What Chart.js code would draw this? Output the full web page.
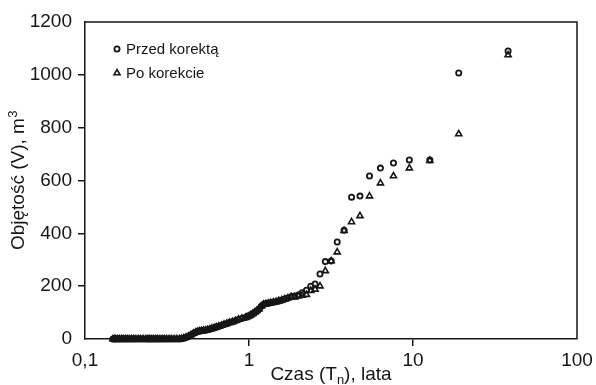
<!DOCTYPE html>
<html lang="pl">
<head>
<meta charset="utf-8">
<script src="https://cdn.jsdelivr.net/npm/chart.js@4/dist/chart.umd.min.js"></script>
<style>
html,body{margin:0;padding:0;background:#fff;}
#wrap{width:596px;height:385px;position:relative;}
</style>
</head>
<body>
<div id="wrap"><canvas id="c" width="596" height="385"></canvas></div>
<script>
// Okres powtarzalności (lata) dla największych zdarzeń
const czasGora = [38, 19, 12.67, 9.5, 7.6, 6.33, 5.43, 4.75, 4.22, 3.8, 3.45, 3.17, 2.92, 2.71, 2.53, 2.38, 2.24, 2.11, 2.0, 1.9];
// Objętość przed korektą i po korekcie (m3) dla tych zdarzeń
const przedGora = [1090, 1007, 678, 678, 666, 647, 617, 541, 537, 412, 367, 295, 293, 246, 208, 200, 185, 175, 167, 163];
const poGora = [1075, 776, 675, 647, 617, 590, 541, 466, 443, 410, 329, 295, 258, 200, 188, 183, 168, 165, 162, 158];

// Pozostałe zdarzenia – obie serie pokrywają się
const czasDol = [1.81, 1.727, 1.652, 1.583, 1.52, 1.462, 1.407, 1.357, 1.31, 1.267, 1.226, 1.188, 1.152, 1.118, 1.086, 1.056, 1.027, 1.0, 0.974, 0.95,
  0.905, 0.864, 0.826, 0.792, 0.76, 0.731, 0.704, 0.679, 0.655, 0.633, 0.613, 0.594, 0.576, 0.559, 0.543, 0.528, 0.514, 0.5, 0.487, 0.475,
  0.458, 0.442, 0.427, 0.413, 0.4, 0.388, 0.376, 0.362, 0.349, 0.336, 0.325, 0.314, 0.304, 0.295, 0.286, 0.277, 0.27, 0.262, 0.255, 0.248,
  0.242, 0.235, 0.226, 0.218, 0.211, 0.204, 0.198, 0.192, 0.186, 0.181, 0.176, 0.171, 0.167, 0.162, 0.158, 0.154, 0.151, 0.148];
const objetoscDol = [160, 155, 151, 147, 144, 141, 139, 137, 135, 133, 131, 124, 114, 107, 101, 96, 91, 87, 84, 81,
  78, 74, 69, 65, 62, 58, 55, 51, 48, 45, 42, 40, 37, 35, 33, 32, 31, 30, 28, 26,
  21, 15, 10, 6, 3, 1, 0, 0, 0, 0, 0, 0, 0, 0, 0, 0, 0, 0, 0, 0,
  0, 0, 0, 0, 0, 0, 0, 0, 0, 0, 0, 0, 0, 0, 0, 0, 0, 0];

// Podziałki osi
const tickiCzasu = [0.1, 1, 10, 100];
const etykietyCzasu = ['0,1', '1', '10', '100'];
const tickiObjetosci = [0, 200, 400, 600, 800, 1000, 1200];

const KOLOR = '#161616';
const FONT = '"Liberation Sans", Arial, Helvetica, sans-serif';

function punkty(xs, ys) { return xs.map((x, i) => ({ x: x, y: ys[i] })); }

const daneCzas = czasGora.concat(czasDol);
const danePrzed = punkty(daneCzas, przedGora.concat(objetoscDol));
const danePo = punkty(daneCzas, poGora.concat(objetoscDol));

// Ramka wykresu (góra i prawa strona)
const ramka = {
  id: 'ramka',
  beforeDatasetsDraw(chart) {
    const { ctx, chartArea: a } = chart;
    ctx.save();
    ctx.strokeStyle = KOLOR;
    ctx.lineWidth = 1.5;
    ctx.beginPath();
    ctx.moveTo(a.left, a.top);
    ctx.lineTo(a.right, a.top);
    ctx.lineTo(a.right, a.bottom);
    ctx.stroke();
    ctx.restore();
  }
};

function znacznik(ctx, styl, x, y) {
  ctx.beginPath();
  if (styl === 'circle') {
    ctx.lineWidth = 1.8;
    ctx.arc(x, y, 2.6, 0, Math.PI * 2);
  } else {
    ctx.lineWidth = 1.6;
    const r = 3.5;
    ctx.moveTo(x, y - r);
    ctx.lineTo(x + r * 0.866, y + r * 0.5);
    ctx.lineTo(x - r * 0.866, y + r * 0.5);
    ctx.closePath();
  }
  ctx.stroke();
}

// Tytuły osi (z indeksami) i legenda
const opisy = {
  id: 'opisy',
  afterDraw(chart) {
    const { ctx, chartArea: a } = chart;
    ctx.save();
    ctx.fillStyle = KOLOR;

    // oś X: Czas (Tn), lata
    const f = '19px ' + FONT, fs = '13px ' + FONT;
    ctx.font = f;
    const c1 = 'Czas (T', c2 = 'n', c3 = '), lata';
    const w1 = ctx.measureText(c1).width, w3 = ctx.measureText(c3).width;
    ctx.font = fs;
    const w2 = ctx.measureText(c2).width;
    let x = (a.left + a.right) / 2 - (w1 + w2 + w3) / 2;
    const yb = 380;
    ctx.textBaseline = 'alphabetic';
    ctx.textAlign = 'left';
    ctx.font = f; ctx.fillText(c1, x, yb); x += w1;
    ctx.font = fs; ctx.fillText(c2, x, yb + 4); x += w2;
    ctx.font = f; ctx.fillText(c3, x, yb);

    // oś Y: Objętość (V), m3
    ctx.save();
    ctx.translate(24, (a.top + a.bottom) / 2);
    ctx.rotate(-Math.PI / 2);
    ctx.font = f;
    const t1 = 'Objętość (V), m', t2 = '3';
    const v1 = ctx.measureText(t1).width;
    ctx.font = fs;
    const v2 = ctx.measureText(t2).width;
    let s = -(v1 + v2) / 2;
    ctx.font = f; ctx.fillText(t1, s, 0); s += v1;
    ctx.font = fs; ctx.fillText(t2, s + 0.5, -7);
    ctx.restore();

    // legenda
    ctx.strokeStyle = KOLOR;
    ctx.font = '15px ' + FONT;
    ctx.textBaseline = 'middle';
    chart.data.datasets.forEach((d, i) => {
      const ly = 49 + i * 24;
      znacznik(ctx, d.pointStyle, 117, ly);
      ctx.fillText(d.label, 126, ly + 1);
    });
    ctx.restore();
  }
};

const tickKolor = (n) => (c) => (c.index === 0 || c.index === n - 1) ? 'rgba(0,0,0,0)' : KOLOR;

new Chart(document.getElementById('c'), {
  type: 'scatter',
  data: {
    datasets: [
      {
        label: 'Przed korektą',
        data: danePrzed,
        pointStyle: 'circle',
        pointRadius: 2.6,
        borderWidth: 1.8,
        borderColor: KOLOR,
        backgroundColor: 'rgba(0,0,0,0)',
        clip: false
      },
      {
        label: 'Po korekcie',
        data: danePo,
        pointStyle: 'triangle',
        pointRadius: 3.5,
        borderWidth: 1.6,
        borderColor: KOLOR,
        backgroundColor: 'rgba(0,0,0,0)',
        clip: false
      }
    ]
  },
  options: {
    responsive: false,
    animation: false,
    devicePixelRatio: 1,
    layout: { padding: { left: 0, top: 22, right: 19, bottom: 0 } },
    plugins: { legend: { display: false }, tooltip: { enabled: false } },
    scales: {
      x: {
        type: 'logarithmic',
        min: 0.1,
        max: 100,
        afterBuildTicks(scale) { scale.ticks = tickiCzasu.map(v => ({ value: v })); },
        afterFit(scale) { scale.height = 46; scale.paddingLeft = 0; scale.paddingRight = 0; },
        ticks: {
          autoSkip: false,
          maxRotation: 0,
          padding: 3,
          color: KOLOR,
          font: { family: FONT, size: 19 },
          callback(value) {
            const i = tickiCzasu.findIndex(t => Math.abs(t - value) < 1e-9);
            return i >= 0 ? etykietyCzasu[i] : '';
          }
        },
        grid: { drawOnChartArea: false, drawTicks: true, tickLength: 7, lineWidth: 1.5, tickColor: tickKolor(tickiCzasu.length) },
        border: { display: true, color: KOLOR, width: 1.5 }
      },
      y: {
        type: 'linear',
        min: 0,
        max: 1200,
        afterBuildTicks(scale) { scale.ticks = tickiObjetosci.map(v => ({ value: v })); },
        afterFit(scale) { scale.width = 85; scale.paddingTop = 0; scale.paddingBottom = 0; },
        ticks: {
          padding: 6,
          color: KOLOR,
          font: { family: FONT, size: 19 },
          callback(value) { return String(value); }
        },
        grid: { drawOnChartArea: false, drawTicks: true, tickLength: 7, lineWidth: 1.5, tickColor: tickKolor(tickiObjetosci.length) },
        border: { display: true, color: KOLOR, width: 1.5 }
      }
    }
  },
  plugins: [ramka, opisy]
});
</script>
</body>
</html>
